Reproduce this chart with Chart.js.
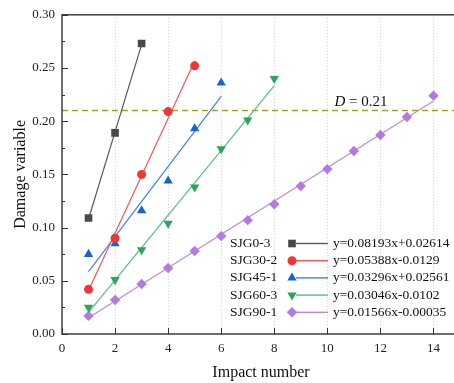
<!DOCTYPE html>
<html>
<head>
<meta charset="utf-8">
<script src="https://cdn.jsdelivr.net/npm/chart.js@4.4.1/dist/chart.umd.min.js"></script>
<style>
html,body{margin:0;padding:0;background:#fff;overflow:hidden;}
</style>
</head>
<body>
<canvas id="c" width="480" height="383"></canvas>
<script>
// series names and fitted equations
var names = ['SJG0-3', 'SJG30-2', 'SJG45-1', 'SJG60-3', 'SJG90-1'];
var equations = ['y=0.08193x+0.02614', 'y=0.05388x-0.0129', 'y=0.03296x+0.02561',
                 'y=0.03046x-0.0102', 'y=0.01566x-0.00035'];
var slopes = [0.08193, 0.05388, 0.03296, 0.03046, 0.01566];
var intercepts = [0.02614, -0.0129, 0.02561, -0.0102, -0.00035];

// impact numbers and damage variable values
var impacts = [1, 2, 3, 4, 5, 6, 7, 8, 9, 10, 11, 12, 13, 14];
var dmg0 = [0.109, 0.189, 0.273];
var dmg30 = [0.042, 0.090, 0.150, 0.209, 0.252];
var dmg45 = [0.075, 0.085, 0.116, 0.144, 0.193, 0.236];
var dmg60 = [0.025, 0.051, 0.079, 0.104, 0.138, 0.174, 0.201, 0.240];
var dmg90 = [0.017, 0.032, 0.047, 0.062, 0.078, 0.092, 0.107, 0.122, 0.139, 0.155, 0.172, 0.187, 0.204, 0.224];
var allDmg = [dmg0, dmg30, dmg45, dmg60, dmg90];

var threshold = 0.21;
var xTicks = [0, 2, 4, 6, 8, 10, 12, 14];
var yTicks = [0, 0.05, 0.10, 0.15, 0.20, 0.25, 0.30];

// styles
var markColors = ['#4a4a4a', '#f23535', '#1a63d6', '#2aa65c', '#b47adf'];
var lineColors = ['#5a5a5a', '#f25555', '#3a85e0', '#56bd86', '#bb8ae2'];
var pointStyles = ['rect', 'circle', 'triangle', 'triangle', 'rectRot'];
var pointRot = [0, 0, 0, 180, 0];
var pointRad = [5.4, 4.5, 5.4, 5.4, 5.2];
var serif = '"Liberation Serif", "Times New Roman", serif';

var datasets = [];
for (var i = 0; i < names.length; i++) {
	var pts = [];
	for (var k = 0; k < allDmg[i].length; k++) {
		pts.push({x: impacts[k], y: allDmg[i][k]});
	}
	var x0 = impacts[0], x1 = impacts[allDmg[i].length - 1];
	datasets.push({
		label: names[i] + ' fit',
		data: [{x: x0, y: slopes[i] * x0 + intercepts[i]}, {x: x1, y: slopes[i] * x1 + intercepts[i]}],
		showLine: true,
		borderColor: lineColors[i],
		borderWidth: 1.2,
		pointRadius: 0,
		order: 2
	});
	datasets.push({
		label: names[i],
		data: pts,
		showLine: false,
		pointStyle: pointStyles[i],
		rotation: pointRot[i],
		pointRadius: pointRad[i],
		backgroundColor: markColors[i],
		borderColor: markColors[i],
		borderWidth: 0,
		order: 1
	});
}

var decorPlugin = {
	id: 'decor',
	beforeDatasetsDraw: function(chart) {
		var ctx = chart.ctx, a = chart.chartArea;
		var ys = chart.scales.y, xs = chart.scales.x;
		ctx.save();
		// dotted vertical grid
		ctx.strokeStyle = '#cfcfcf';
		ctx.lineWidth = 1;
		ctx.setLineDash([1, 2]);
		ctx.beginPath();
		xTicks.forEach(function(v) {
			if (v === 0) return;
			var px = Math.round(xs.getPixelForValue(v)) + 0.5;
			ctx.moveTo(px, a.top);
			ctx.lineTo(px, a.bottom);
		});
		ctx.stroke();
		// threshold line
		var py = ys.getPixelForValue(threshold);
		ctx.strokeStyle = '#a3a31c';
		ctx.lineWidth = 1.5;
		ctx.setLineDash([6, 4]);
		ctx.beginPath();
		ctx.moveTo(a.left, py);
		ctx.lineTo(a.right, py);
		ctx.stroke();
		ctx.setLineDash([]);
		// label
		var tx = xs.getPixelForValue(10.27);
		ctx.fillStyle = '#111';
		ctx.textBaseline = 'alphabetic';
		ctx.font = 'italic 15px ' + serif;
		ctx.fillText('D', tx, py - 5);
		var w = ctx.measureText('D').width;
		ctx.font = '15px ' + serif;
		ctx.fillText(' = ' + threshold.toFixed(2), tx + w, py - 5);
		ctx.restore();
	},
	afterDraw: function(chart) {
		var ctx = chart.ctx, a = chart.chartArea;
		var ys = chart.scales.y, xs = chart.scales.x;
		ctx.save();
		ctx.strokeStyle = '#333';
		ctx.lineWidth = 1.4;
		ctx.strokeRect(a.left, a.top, a.right - a.left, a.bottom - a.top);
		ctx.lineWidth = 1;
		ctx.beginPath();
		xTicks.forEach(function(v) {
			var px = Math.round(xs.getPixelForValue(v)) + 0.5;
			ctx.moveTo(px, a.bottom);
			ctx.lineTo(px, a.bottom - 6);
		});
		yTicks.forEach(function(v) {
			var py = Math.round(ys.getPixelForValue(v)) + 0.5;
			ctx.moveTo(a.left, py);
			ctx.lineTo(a.left + 6, py);
			ctx.moveTo(a.right, py);
			ctx.lineTo(a.right - 6, py);
			var pm = Math.round(ys.getPixelForValue(v + 0.025)) + 0.5;
			if (v < 0.3) {
				ctx.moveTo(a.left, pm);
				ctx.lineTo(a.left + 3, pm);
				ctx.moveTo(a.right, pm);
				ctx.lineTo(a.right - 3, pm);
			}
		});
		ctx.stroke();

		// legend
		var lx = 230, rowY = 243.5, rowH = 17.2;
		ctx.font = '13.5px ' + serif;
		ctx.textBaseline = 'middle';
		for (var i = 0; i < names.length; i++) {
			var y = rowY + i * rowH;
			ctx.fillStyle = '#111';
			ctx.fillText(names[i], lx, y);
			ctx.strokeStyle = lineColors[i];
			ctx.lineWidth = 1.4;
			ctx.beginPath();
			ctx.moveTo(296, y);
			ctx.lineTo(328, y);
			ctx.stroke();
			ctx.fillStyle = markColors[i];
			ctx.strokeStyle = markColors[i];
			Chart.helpers.drawPoint(ctx, {pointStyle: pointStyles[i], rotation: pointRot[i],
				radius: pointRad[i], borderWidth: 0}, 292, y);
			ctx.fillStyle = '#111';
			ctx.fillText(equations[i], 333, y);
		}
		ctx.restore();
	}
};

new Chart(document.getElementById('c'), {
	type: 'scatter',
	data: {datasets: datasets},
	plugins: [decorPlugin],
	options: {
		responsive: false,
		animation: false,
		layout: {padding: {left: 0, top: 14, right: 20, bottom: 0}},
		plugins: {legend: {display: false}, tooltip: {enabled: false}},
		scales: {
			x: {
				type: 'linear',
				min: 0,
				max: 15,
				afterFit: function(s) { s.height = 49; },
				afterBuildTicks: function(s) {
					s.ticks = xTicks.map(function(v) { return {value: v}; });
				},
				ticks: {
					padding: 7,
					color: '#222',
					font: {family: serif, size: 13},
					maxRotation: 0
				},
				grid: {display: false, drawTicks: false},
				border: {display: false},
				title: {
					display: true,
					text: 'Impact number',
					color: '#111',
					font: {family: serif, size: 16},
					padding: {top: 2, bottom: 1}
				}
			},
			y: {
				type: 'linear',
				min: 0,
				max: 0.30,
				afterFit: function(s) { s.width = 62; },
				afterBuildTicks: function(s) {
					s.ticks = yTicks.map(function(v) { return {value: v}; });
				},
				ticks: {
					padding: 7,
					color: '#222',
					font: {family: serif, size: 13},
					callback: function(v) { return Number(v).toFixed(2); }
				},
				grid: {display: false, drawTicks: false},
				border: {display: false},
				title: {
					display: true,
					text: 'Damage variable',
					color: '#111',
					font: {family: serif, size: 16},
					padding: {top: 11, bottom: 0}
				}
			}
		}
	}
});
</script>
</body>
</html>
